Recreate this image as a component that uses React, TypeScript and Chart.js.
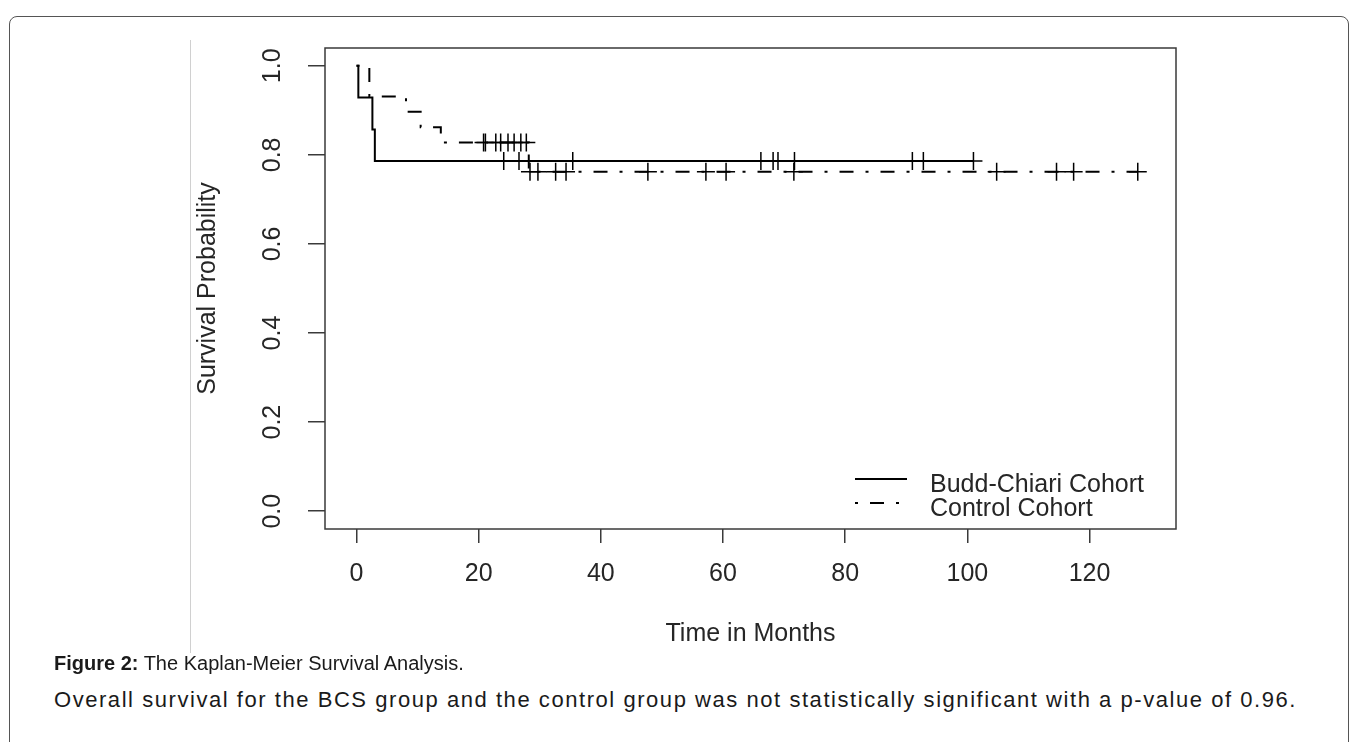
import React, { useEffect, useRef } from "react";
import { Chart, registerables } from "chart.js";

Chart.register(...registerables);

// ---- data ----
const xTicks = [0, 20, 40, 60, 80, 100, 120];
const yTicks = [0, 0.2, 0.4, 0.6, 0.8, 1.0];
const seriesLabels = ["Budd-Chiari Cohort", "Control Cohort"];

// Kaplan-Meier step points: time (months) and survival after that time
const bcsTimes = [0, 0.3, 2.6, 3.0, 101];
const bcsSurv = [1.0, 0.929, 0.857, 0.786, 0.786];
const bcsCensored = [24.1, 26.6, 35.4, 66.2, 68.2, 69.0, 71.7, 91.0, 92.8, 101];

const ctlTimes = [0, 2.1, 8.1, 10.5, 13.8, 28.2, 127.9];
const ctlSurv = [1.0, 0.931, 0.897, 0.862, 0.828, 0.762, 0.762];
const ctlCensored = [
  20.8, 21.1, 22.8, 23.6, 24.8, 25.8, 26.9, 27.8, 28.4, 29.7, 32.6, 34.3,
  47.7, 57.2, 60.5, 71.6, 104.8, 114.6, 117.4, 127.9,
];

const captionBold = "Figure 2:";
const captionTitle = " The Kaplan-Meier Survival Analysis.";
const captionText =
  "Overall survival for the BCS group and the control group was not statistically significant with a p-value of 0.96.";

// ---- helpers ----
const stepPoints = (t: number[], s: number[]) => t.map((v, i) => ({ x: v, y: s[i] }));
const survAt = (t: number[], s: number[], time: number) => {
  let v = s[0];
  for (let i = 0; i < t.length; i++) if (t[i] <= time) v = s[i];
  return v;
};
const censorPoints = (t: number[], s: number[], c: number[]) =>
  c.map((time) => ({ x: time, y: survAt(t, s, time) }));

const FONT = "'Liberation Sans', Arial, Helvetica, sans-serif";
const TEXT = "#262626";
const AXIS = "#3a3a3a";
const DASH = [3, 12, 14, 12];

const framePlugin = {
  id: "rFrame",
  afterDatasetsDraw(chart: any) {
    const { ctx, chartArea: a } = chart;
    ctx.save();
    ctx.strokeStyle = AXIS;
    ctx.lineWidth = 1.5;
    ctx.strokeRect(a.left, a.top, a.right - a.left, a.bottom - a.top);

    // legend (bty = "n"), bottom-right inside plot box
    const x0 = a.right - 321;
    const x1 = a.right - 269;
    const tx = a.right - 246;
    ctx.strokeStyle = "#000";
    ctx.lineWidth = 2;
    ctx.beginPath();
    ctx.moveTo(x0, a.bottom - 50);
    ctx.lineTo(x1, a.bottom - 50);
    ctx.stroke();
    ctx.setLineDash(DASH);
    ctx.beginPath();
    ctx.moveTo(x0, a.bottom - 26);
    ctx.lineTo(x1, a.bottom - 26);
    ctx.stroke();
    ctx.setLineDash([]);
    ctx.fillStyle = TEXT;
    ctx.font = `25px ${FONT}`;
    ctx.textAlign = "left";
    ctx.textBaseline = "alphabetic";
    const labels = chart.data.datasets.slice(0, 2).map((d: any) => d.label);
    ctx.fillText(labels[0], tx, a.bottom - 37);
    ctx.fillText(labels[1], tx, a.bottom - 13);
    ctx.restore();
  },
};

function KMChart() {
  const ref = useRef<HTMLCanvasElement | null>(null);
  useEffect(() => {
    if (!ref.current) return;
    const tickFont = { family: FONT, size: 25 };
    const chart = new Chart(ref.current, {
      type: "scatter",
      data: {
        datasets: [
          {
            label: seriesLabels[0],
            data: stepPoints(bcsTimes, bcsSurv),
            showLine: true,
            stepped: true,
            borderColor: "#000",
            borderWidth: 2,
            pointRadius: 0,
            fill: false,
          },
          {
            label: seriesLabels[1],
            data: stepPoints(ctlTimes, ctlSurv),
            showLine: true,
            stepped: true,
            borderColor: "#000",
            borderWidth: 2,
            borderDash: DASH,
            pointRadius: 0,
            fill: false,
          },
          {
            label: seriesLabels[0] + " censored",
            data: censorPoints(bcsTimes, bcsSurv, bcsCensored),
            showLine: false,
            pointStyle: "cross",
            pointRadius: 9,
            borderColor: "#000",
            borderWidth: 1.5,
          },
          {
            label: seriesLabels[1] + " censored",
            data: censorPoints(ctlTimes, ctlSurv, ctlCensored),
            showLine: false,
            pointStyle: "cross",
            pointRadius: 9,
            borderColor: "#000",
            borderWidth: 1.5,
          },
        ],
      },
      options: {
        animation: false,
        responsive: false,
        events: [],
        layout: { padding: { left: 190, top: 48, right: 182, bottom: 11 } },
        plugins: { legend: { display: false }, tooltip: { enabled: false } },
        scales: {
          x: {
            type: "linear",
            min: -5.16,
            max: 134.16,
            afterBuildTicks: (s: any) => {
              s.ticks = xTicks.map((v) => ({ value: v }));
            },
            afterFit: (s: any) => {
              s.height = 120;
            },
            grid: { drawOnChartArea: false, drawTicks: true, tickLength: 14, color: AXIS, lineWidth: 1.5 },
            border: { display: false },
            ticks: {
              color: TEXT,
              font: tickFont,
              padding: 16,
              minRotation: 0,
              maxRotation: 0,
              autoSkip: false,
              callback: (v: any) => String(v),
            },
            title: {
              display: true,
              text: "Time in Months",
              color: TEXT,
              font: tickFont,
              padding: { top: 0, bottom: 0 },
            },
          },
          y: {
            type: "linear",
            min: -0.04,
            max: 1.04,
            afterBuildTicks: (s: any) => {
              s.ticks = yTicks.map((v) => ({ value: v }));
            },
            afterFit: (s: any) => {
              s.width = 135;
            },
            grid: { drawOnChartArea: false, drawTicks: true, tickLength: 17, color: AXIS, lineWidth: 1.5 },
            border: { display: false },
            ticks: {
              color: TEXT,
              font: tickFont,
              padding: 18,
              minRotation: 90,
              maxRotation: 90,
              crossAlign: "center",
              autoSkip: false,
              callback: (v: any) => Number(v).toFixed(1),
            },
            title: {
              display: true,
              text: "Survival Probability",
              color: TEXT,
              font: tickFont,
              padding: { top: 3, bottom: 0 },
            },
          },
        },
      },
      plugins: [framePlugin],
    } as any);
    return () => chart.destroy();
  }, []);
  return (
    <canvas
      ref={ref}
      width={1358}
      height={660}
      style={{ position: "absolute", left: 0, top: 0, width: 1358, height: 660, display: "block" }}
    />
  );
}

export default function App() {
  return (
    <div
      style={{
        position: "fixed",
        left: 0,
        top: 0,
        width: 1358,
        height: 742,
        overflow: "hidden",
        background: "#fff",
        fontFamily: FONT,
      }}
    >
      <div
        style={{
          position: "absolute",
          left: 9,
          top: 16,
          width: 1340,
          height: 780,
          border: "1px solid #555",
          borderRadius: 8,
          boxSizing: "border-box",
        }}
      />
      <div
        style={{ position: "absolute", left: 190, top: 40, width: 1, height: 613, background: "#d0d0d0" }}
      />
      <KMChart />
      <div
        style={{
          position: "absolute",
          left: 54,
          top: 651,
          fontSize: 20,
          lineHeight: "24px",
          color: "#1a1a1a",
          whiteSpace: "nowrap",
        }}
      >
        <b>{captionBold}</b>
        {captionTitle}
      </div>
      <div
        style={{
          position: "absolute",
          left: 54,
          top: 687,
          fontSize: 22,
          lineHeight: "26px",
          letterSpacing: "1.55px",
          color: "#1a1a1a",
          whiteSpace: "nowrap",
        }}
      >
        {captionText}
      </div>
    </div>
  );
}
